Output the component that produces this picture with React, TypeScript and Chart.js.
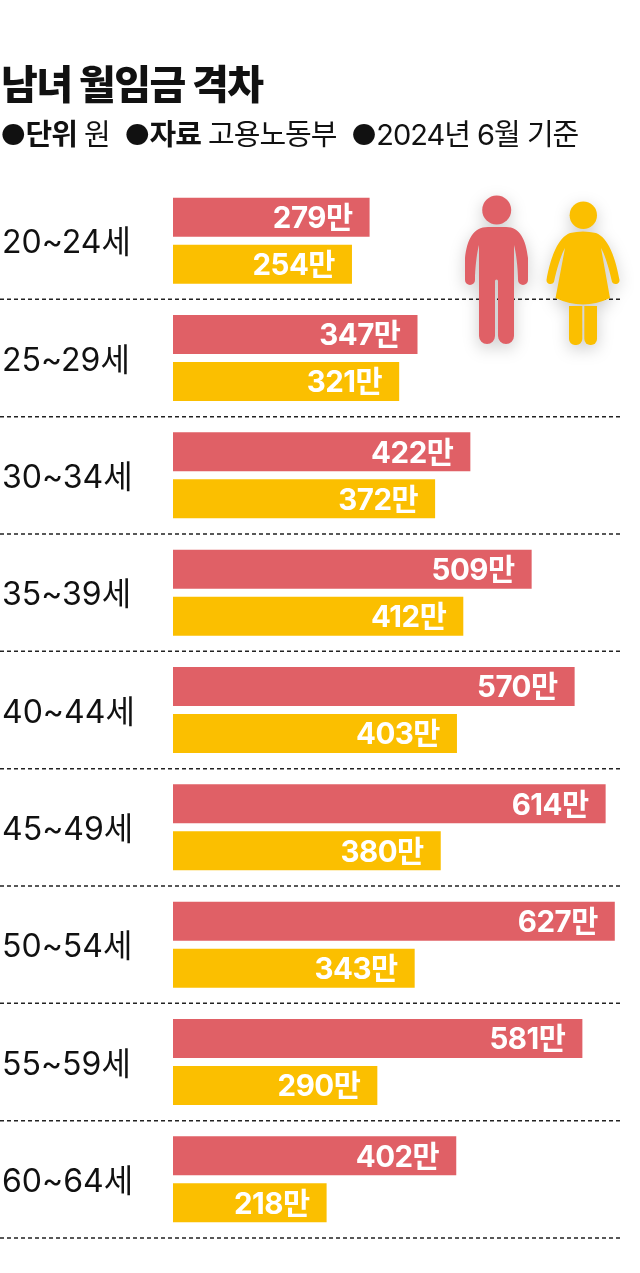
import React, { useEffect, useRef } from "react";
import { Chart, registerables } from "chart.js";

Chart.register(...registerables);

const ageGroups = ["20~24세", "25~29세", "30~34세", "35~39세", "40~44세", "45~49세", "50~54세", "55~59세", "60~64세"];
const menWages = [279, 347, 422, 509, 570, 614, 627, 581, 402];
const womenWages = [254, 321, 372, 412, 403, 380, 343, 290, 218];
const RED = "#E06066";
const YELLOW = "#FBBF00";
const FONT = '"Inter", "Noto Sans CJK KR", sans-serif';

const barLabels = {
  id: "barLabels",
  afterDatasetsDraw(chart: any) {
    const { ctx } = chart;
    ctx.save();
    ctx.font = `700 29.5px ${FONT}`;
    ctx.fillStyle = "#fff";
    ctx.textAlign = "right";
    ctx.textBaseline = "middle";
    (ctx as any).letterSpacing = "-0.5px";
    chart.data.datasets.forEach((ds: any, i: number) => {
      chart.getDatasetMeta(i).data.forEach((bar: any, j: number) => {
        ctx.fillText(`${ds.data[j]}만`, bar.x - 17, bar.y + 2);
      });
    });
    ctx.restore();
  },
};

const separators = {
  id: "separators",
  beforeDatasetsDraw(chart: any) {
    const { ctx, scales } = chart;
    const y = scales.y;
    ctx.save();
    ctx.strokeStyle = "#222";
    ctx.lineWidth = 1.5;
    ctx.setLineDash([4, 3]);
    ageGroups.forEach((_, i) => {
      const py = y.getPixelForValue(i) + (y.getPixelForValue(1) - y.getPixelForValue(0)) / 2;
      ctx.beginPath();
      ctx.moveTo(0, py);
      ctx.lineTo(620, py);
      ctx.stroke();
    });
    ctx.restore();
  },
};

export default function App() {
  const ref = useRef<HTMLCanvasElement>(null);
  useEffect(() => {
    const chart = new Chart(ref.current!, {
      type: "bar",
      data: {
        labels: ageGroups,
        datasets: [
          { label: "남성", data: menWages, backgroundColor: RED, categoryPercentage: 0.801, barPercentage: 0.83 },
          { label: "여성", data: womenWages, backgroundColor: YELLOW, categoryPercentage: 0.801, barPercentage: 0.83 },
        ],
      },
      options: {
        indexAxis: "y",
        animation: false,
        responsive: false,
        devicePixelRatio: 1,
        layout: { padding: { top: 182, bottom: 35, left: 2, right: 9 } },
        plugins: { legend: { display: false }, tooltip: { enabled: false } },
        scales: {
          x: { display: false, min: 0, max: 650 },
          y: {
            afterFit(scale: any) { scale.width = 171; },
            border: { display: false },
            grid: { display: false },
            ticks: {
              crossAlign: "far",
              padding: 0,
              labelOffset: 3,
              color: "#111",
              font: { family: FONT, size: 32, weight: "400" },
            },
          },
        },
      },
      plugins: [separators, barLabels],
    } as any);
    return () => chart.destroy();
  }, []);

  return (
    <div style={{ position: "absolute", left: 0, top: 0, width: 640, height: 1273, background: "#fff", overflow: "hidden", fontFamily: FONT, color: "#111" }}>
      <canvas ref={ref} width={640} height={1273} style={{ position: "absolute", left: 0, top: 0, display: "block" }} />
      <div style={{ position: "absolute", left: 1, top: 62, fontSize: 40, fontWeight: 800, letterSpacing: -1.5, whiteSpace: "nowrap", lineHeight: "46px" }}>남녀 월임금 격차</div>
      <div style={{ position: "absolute", left: 0, top: 118, fontSize: 29, letterSpacing: -1, whiteSpace: "nowrap", lineHeight: "34px" }}>
        <b>●단위</b> 원 &nbsp;<b>●자료</b> 고용노동부 &nbsp;●2024년 6월 기준
      </div>
      <svg width={640} height={1273} style={{ position: "absolute", left: 0, top: 0, filter: "drop-shadow(0 5px 8px rgba(0,0,0,0.2))" }}>
        <circle cx={496.7} cy={210} r={14.5} fill={RED} />
        <path fill={RED} d="M488 227 H506 C520 227 526 240 528 258 V280 A5 5 0 0 1 518 280 C518 268 516 252 514 245 V336 A8 8 0 0 1 498 336 V281 A1.5 1.5 0 0 0 495 281 V336 A8 8 0 0 1 479 336 V245 C477 252 475 268 475 280 A5 5 0 0 1 465 280 V258 C467 240 473 227 488 227 Z" />
        <circle cx={583.3} cy={215.3} r={13.7} fill={YELLOW} />
        <path fill={YELLOW} d="M570 233 Q583 230 596 233 C609 238 616 260 619.5 280 A4 4 0 0 1 612 282 C609 268 605 255 601 248 L610 298 Q583 311 555.5 298 L565 248 C561 255 557 268 554 282 A4 4 0 0 1 546.5 280 C550 260 557 238 570 233 Z" />
        <path fill={YELLOW} d="M569 306 H582.3 V339 A6 6 0 0 1 576.3 345 H575 A6 6 0 0 1 569 339 Z" />
        <path fill={YELLOW} d="M584.3 306 H597 V339 A6 6 0 0 1 591 345 H590.3 A6 6 0 0 1 584.3 339 Z" />
      </svg>
    </div>
  );
}
